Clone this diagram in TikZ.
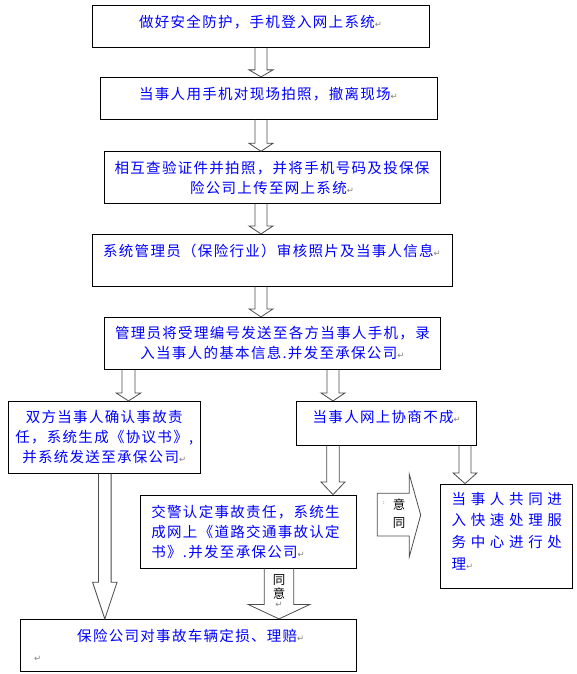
\documentclass[tikz,border=0pt]{standalone}
\usepackage{fontspec}
\usetikzlibrary{calc}
\newfontfamily\cjk[LetterSpace=9]{Noto Sans CJK SC}
\newfontfamily\cjkwide[LetterSpace=32]{Noto Sans CJK SC}
\newfontfamily\dejavu{DejaVu Sans}
\newcommand{\retmark}{{\dejavu\fontsize{8.5}{8.5}\selectfont\color{black!50}↵}}
\newcommand{\blkdown}[6]{%
  \draw[blkarrow] let \p1=(#2.south), \p2=(#3.north) in
    (#1pt-#4pt,\y1) -- (#1pt-#4pt,\y2+#6pt) -- (#1pt-#5pt,\y2+#6pt) -- (#1pt,\y2)
    -- (#1pt+#5pt,\y2+#6pt) -- (#1pt+#4pt,\y2+#6pt) -- (#1pt+#4pt,\y1);}
\begin{document}
\begin{tikzpicture}[x=1pt,y=-1pt,
  box/.style={draw,line width=.8pt,inner sep=0pt,text=blue,align=center,
    font=\cjk\fontsize{14.5}{20}\selectfont},
  leftbox/.style={box,align=left,inner xsep=11pt},
  blkarrow/.style={draw=black!70,line width=.8pt,line join=miter},
  lbl/.style={inner sep=0pt,align=center,font=\cjk\fontsize{12.5}{14}\selectfont}]
\path[use as bounding box] (0,0) rectangle (576,674);
\node[box,minimum width=337pt,minimum height=42pt,text depth=9pt] (safe) at (260.5,26.3) {做好安全防护，手机登入网上系统\retmark};
\node[box,minimum width=337pt,minimum height=42pt,text depth=10pt] (photo) at (268.5,98.3) {当事人用手机对现场拍照，撤离现场\retmark};
\node[box,minimum width=336pt,minimum height=51.6pt] (check) at (272,177.5) {相互查验证件并拍照，并将手机号码及投保保\\险公司上传至网上系统\retmark};
\node[box,minimum width=360pt,minimum height=51.7pt] (review) at (272,260.2) {系统管理员（保险行业）审核照片及当事人信息\retmark\\ \mbox{}};
\node[box,minimum width=336pt,minimum height=52pt] (notify) at (272.4,343.3) {管理员将受理编号发送至各方当事人手机，录\\入当事人的基本信息.并发至承保公司\retmark};
\node[box,minimum width=192.4pt,minimum height=72pt] (agree) at (104.2,437.3) {双方当事人确认事故责\\任，系统生成《协议书》,\\并系统发送至承保公司\retmark};
\node[box,minimum width=180pt,minimum height=43.7pt,text depth=13.5pt] (fail) at (386.7,423.2) {当事人网上协商不成\retmark};
\node[leftbox,text width=194.2pt,minimum height=73pt] (police) at (248.5,531.5) {交警认定事故责任，系统生\\成网上《道路交通事故认定\\书》.并发至承保公司\retmark};
\node[box,minimum width=132.4pt,minimum height=104pt] (center) at (506.6,536) {};
\node[anchor=west,inner sep=0pt,align=left,text=blue,
  font=\cjkwide\fontsize{14.5}{21.7}\selectfont] (centertext) at (451.5,531) {当事人共同进\\入快速处理服\\务中心进行处\\理\retmark};
\node[box,align=left,inner xsep=14pt,text width=308.4pt,minimum height=52pt] (claim) at (188.4,645.3) {\hspace*{43pt}保险公司对事故车辆定损、理赔\retmark\\\retmark};

\blkdown{261}{safe}{photo}{6}{12}{7}
\blkdown{261}{photo}{check}{6}{12}{8}
\blkdown{261}{check}{review}{6}{12}{8}
\blkdown{261}{review}{notify}{6}{12}{8}
\blkdown{128.5}{notify}{agree}{6.5}{12.5}{8}
\blkdown{333}{notify}{fail}{6}{12}{8}
\blkdown{104.8}{agree}{claim}{6.3}{12.2}{36.6}
\blkdown{333}{fail}{police}{6.3}{12}{12.6}
\blkdown{465}{fail}{center}{6}{12}{10.7}
\blkdown{279}{police}{claim}{14.7}{31}{14.5}
\node[lbl] (agreedown) at (279,587) {同\\意};
\node[inner sep=0pt] (markdown) at (279,605) {\retmark};

\draw[blkarrow] (377.3,493.3) -- (409.3,493.3) -- (409.3,474.3) -- (420.7,515)
  -- (409.3,556.7) -- (409.3,536) -- (377.3,536) -- cycle;
\node[lbl,font=\cjk\fontsize{12.5}{18}\selectfont] (agreeright) at (399,514) {意\\同};
\node[inner sep=0pt,font=\fontsize{6}{6}\selectfont] (dots) at (384,503) {:};
\end{tikzpicture}
\end{document}
